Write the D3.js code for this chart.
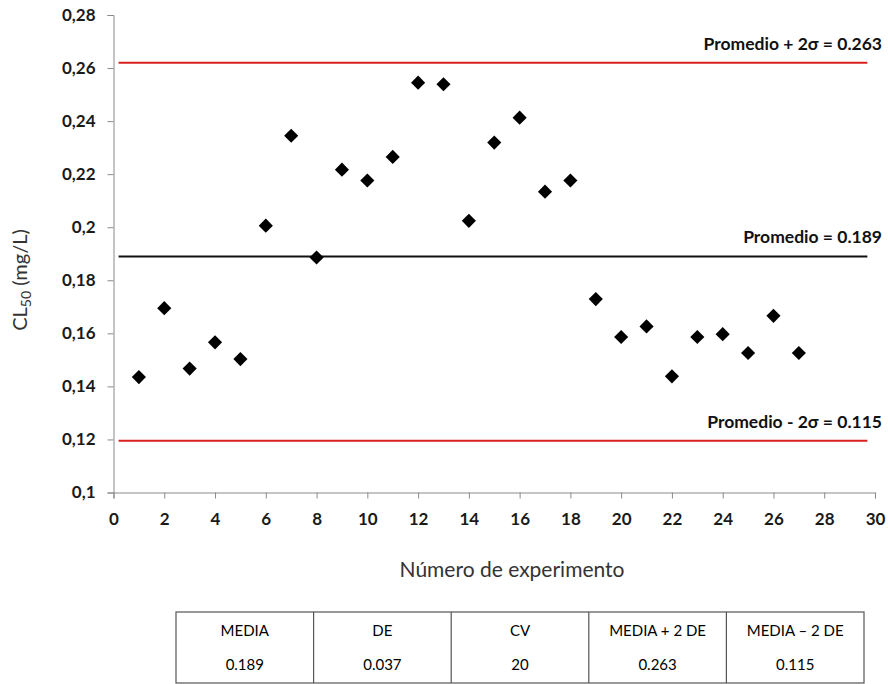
<!DOCTYPE html>
<html>
<head>
<meta charset="utf-8">
<script src="https://cdn.jsdelivr.net/npm/d3@7"></script>
<style>
  body { margin: 0; background: #fff; }
  svg { display: block; font-family: Lato, "Open Sans", sans-serif; }
</style>
</head>
<body>
<div id="container"></div>
<script>
// experiment number vs CL50 (mg/L)
const experiments = d3.range(1, 28)
const cl50 = [0.1435, 0.1695, 0.1467, 0.1566, 0.1503, 0.2006, 0.2345, 0.1886, 0.2217,
    0.2176, 0.2265, 0.2545, 0.2539, 0.2024, 0.2319, 0.2413, 0.2134, 0.2176,
    0.1729, 0.1586, 0.1626, 0.1438, 0.1586, 0.1597, 0.1526, 0.1666, 0.1526]

// reference lines as drawn (upper, mean, lower)
const refValues = [0.262, 0.189, 0.1195]
const refLabels = ["Promedio + 2σ = 0.263", "Promedio = 0.189", "Promedio - 2σ = 0.115"]
const refColors = ["#d8211f", "#111111", "#d8211f"]

const xTicks = d3.range(0, 31, 2)
const yTicks = [0.1, 0.12, 0.14, 0.16, 0.18, 0.2, 0.22, 0.24, 0.26, 0.28]

const tableHeaders = ["MEDIA", "DE", "CV", "MEDIA + 2 DE", "MEDIA – 2 DE"]
const tableValues = ["0.189", "0.037", "20", "0.263", "0.115"]

const width = 888
const height = 684

const svg = d3.select("#container").append("svg")
    .attr("width", width)
    .attr("height", height)

const x = d3.scaleLinear().domain([0, 30]).range([113.5, 875])
const y = d3.scaleLinear().domain([0.1, 0.28]).range([492.5, 15])

const comma = d3.formatLocale({ decimal: ",", thousands: ".", grouping: [3], currency: ["", ""] })
const fmt = comma.format("~g")

const yAxis = svg.append("g")
    .attr("transform", `translate(${x(0)},0)`)
    .call(d3.axisLeft(y).tickValues(yTicks).tickFormat(fmt).tickSize(6).tickPadding(12))
const xAxis = svg.append("g")
    .attr("transform", `translate(0,${y(0.1)})`)
    .call(d3.axisBottom(x).tickValues(xTicks).tickSize(6).tickPadding(14))

for (const ax of [xAxis, yAxis]) {
    ax.select(".domain").attr("stroke", "#8a8a8a")
    ax.selectAll(".tick line").attr("stroke", "#8a8a8a")
    ax.selectAll(".tick text")
        .attr("fill", "#1a1a1a")
        .style("font-size", "17px")
        .style("font-weight", "bold")
        .style("font-family", "Lato, sans-serif")
}

// reference lines
svg.append("g").selectAll("line")
    .data(refValues)
    .enter().append("line")
    .attr("x1", x(0.2))
    .attr("x2", x(29.7))
    .attr("y1", d => y(d))
    .attr("y2", d => y(d))
    .attr("stroke", (d, i) => refColors[i])
    .attr("stroke-width", 2)

svg.append("g").selectAll("text")
    .data(refValues)
    .enter().append("text")
    .attr("x", 882)
    .attr("y", d => y(d) - 13)
    .attr("text-anchor", "end")
    .attr("fill", "#111")
    .style("font-size", "17.5px")
    .style("font-weight", "bold")
    .text((d, i) => refLabels[i])

// points
const diamond = d3.symbol().type(d3.symbolSquare).size(100)
svg.append("g").selectAll("path")
    .data(experiments)
    .enter().append("path")
    .attr("d", diamond)
    .attr("transform", (d, i) => `translate(${x(d)},${y(cl50[i])}) rotate(45)`)
    .attr("fill", "#000")

// axis titles
svg.append("text")
    .attr("x", 512)
    .attr("y", 577)
    .attr("text-anchor", "middle")
    .attr("fill", "#333")
    .style("font-size", "21px")
    .text("Número de experimento")

const yTitle = svg.append("text")
    .attr("transform", "translate(27,280) rotate(-90)")
    .attr("text-anchor", "middle")
    .attr("fill", "#333")
    .style("font-size", "20px")
yTitle.append("tspan").text("CL")
yTitle.append("tspan").attr("dy", 4).style("font-size", "14px").text("50")
yTitle.append("tspan").attr("dy", -4).text(" (mg/L)")

// summary table
const tx = d3.scaleBand().domain(tableHeaders).range([176, 864])
const tableTop = 612
const tableBottom = 683

const table = svg.append("g")
table.append("rect")
    .attr("x", tx.range()[0])
    .attr("y", tableTop)
    .attr("width", tx.range()[1] - tx.range()[0])
    .attr("height", tableBottom - tableTop)
    .attr("fill", "none")
    .attr("stroke", "#555")
    .attr("stroke-width", 1.2)

table.selectAll("line.col")
    .data(tableHeaders.slice(1))
    .enter().append("line")
    .attr("class", "col")
    .attr("x1", d => tx(d))
    .attr("x2", d => tx(d))
    .attr("y1", tableTop)
    .attr("y2", tableBottom)
    .attr("stroke", "#555")
    .attr("stroke-width", 1.2)

table.selectAll("text.head")
    .data(tableHeaders)
    .enter().append("text")
    .attr("class", "head")
    .attr("x", d => tx(d) + tx.bandwidth() / 2)
    .attr("y", 636)
    .attr("text-anchor", "middle")
    .attr("fill", "#000")
    .style("font-size", "15px")
    .text(d => d)

table.selectAll("text.val")
    .data(tableValues)
    .enter().append("text")
    .attr("class", "val")
    .attr("x", (d, i) => tx(tableHeaders[i]) + tx.bandwidth() / 2)
    .attr("y", 670)
    .attr("text-anchor", "middle")
    .attr("fill", "#000")
    .style("font-size", "15px")
    .text(d => d)
</script>
</body>
</html>
